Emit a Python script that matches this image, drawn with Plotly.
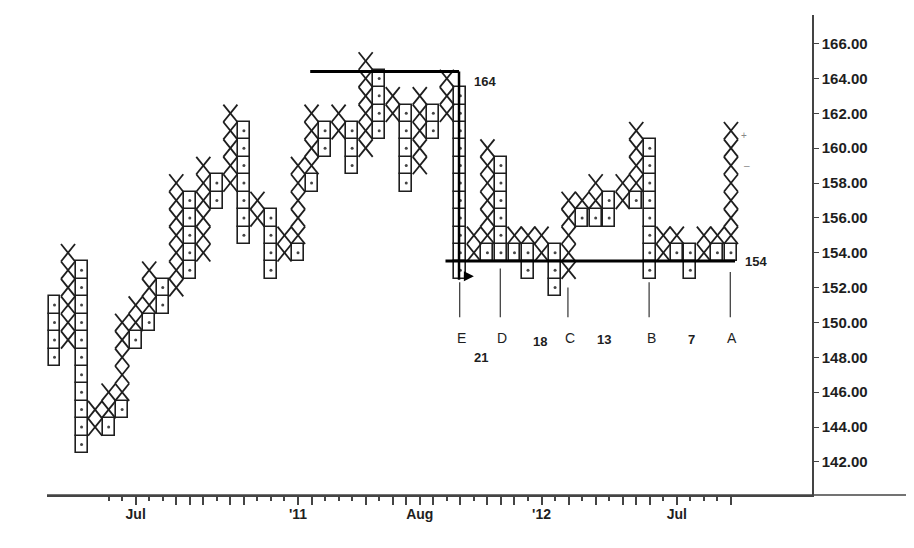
import plotly.graph_objects as go

# point & figure chart, box size 1.00, one column per index
o_col = [0, 2, 4, 5, 6, 7, 8, 10, 12, 14, 16, 18, 19, 20, 22, 24, 26, 28, 30,
         32, 33, 34, 35, 37, 39, 40, 41, 43, 44, 46, 47, 49, 50]
o_low = [148, 143, 144, 145, 149, 150, 151, 153, 157, 155, 153, 154, 158, 160, 159, 161, 158, 161, 153,
         154, 154, 154, 153, 152, 156, 156, 156, 157, 153, 154, 153, 154, 154]
o_high = [151, 153, 144, 145, 149, 150, 152, 157, 158, 161, 156, 154, 158, 161, 161, 164, 162, 162, 163,
          154, 159, 154, 154, 154, 156, 156, 157, 157, 160, 154, 154, 154, 154]

x_col = [1, 3, 4, 5, 6, 7, 9, 11, 13, 15, 17, 18, 19, 21, 23, 25, 27, 29, 31, 32,
         34, 35, 36, 38, 39, 40, 42, 43, 45, 46, 48, 49, 50]
x_low = [149, 144, 145, 146, 150, 151, 152, 154, 158, 156, 154, 155, 159, 161, 160, 162, 159, 162, 154, 155,
         155, 155, 154, 153, 157, 157, 157, 158, 154, 155, 154, 155, 155]
x_high = [154, 145, 146, 150, 151, 153, 158, 159, 162, 157, 155, 159, 162, 162, 165, 163, 163, 164, 155, 160,
          155, 155, 155, 157, 157, 158, 158, 161, 155, 155, 155, 155, 161]

# time axis
label_cols = [6, 18, 27, 36, 46]
label_text = ["Jul", "'11", "Aug", "'12", "Jul"]
long_ticks = [6, 9, 10, 11, 13, 14, 18, 19, 23, 25, 26, 27, 28, 30, 32, 33, 34, 36,
              38, 40, 42, 43, 44, 46, 50]
short_ticks = [c for c in range(4, 51) if c not in long_ticks]

price_ticks = list(range(142, 167, 2))

# count / target marks
mark_cols = [30, 33, 38, 44, 50]
mark_text = ["E", "D", "C", "B", "A"]
mark_top = [152.3, 153.1, 152.0, 152.3, 152.9]
count_cols = [31.5, 35.9, 40.6, 47.1]
count_text = ["21", "18", "13", "7"]
count_y = [148.0, 148.9, 149.0, 149.0]

ink = "#1e1e1e"

# O boxes
bx, bbase, dot_x, dot_y = [], [], [], []
for c, lo, hi in zip(o_col, o_low, o_high):
    for lv in range(lo, hi + 1):
        bx.append(c)
        bbase.append(lv - 0.5)
        dot_x.append(c)
        dot_y.append(lv)

# X marks
xx, xy = [], []
hw = 0.52
for c, lo, hi in zip(x_col, x_low, x_high):
    for lv in range(lo, hi + 1):
        xx += [c - hw, c + hw, None, c - hw, c + hw, None]
        xy += [lv - 0.5, lv + 0.5, None, lv + 0.5, lv - 0.5, None]

fig = go.Figure()
fig.add_trace(go.Bar(x=bx, y=[1] * len(bx), base=bbase, width=0.88,
                     marker=dict(color="white", line=dict(color=ink, width=1.6)),
                     hoverinfo="skip", showlegend=False))
fig.add_trace(go.Scatter(x=dot_x, y=dot_y, mode="markers",
                         marker=dict(size=3, color="#444"),
                         hoverinfo="skip", showlegend=False))
fig.add_trace(go.Scatter(x=xx, y=xy, mode="lines",
                         line=dict(color=ink, width=1.8),
                         hoverinfo="skip", showlegend=False))

# resistance / support lines
fig.add_shape(type="line", x0=18.9, x1=29.9, y0=164.4, y1=164.4,
              line=dict(color="black", width=3))
fig.add_shape(type="line", x0=29.9, x1=29.9, y0=164.4, y1=152.45,
              line=dict(color="black", width=2.5))
fig.add_shape(type="line", x0=28.9, x1=50.3, y0=153.52, y1=153.52,
              line=dict(color="black", width=3))

for c, t, top in zip(mark_cols, mark_text, mark_top):
    fig.add_shape(type="line", x0=c - 0.05, x1=c - 0.05, y0=top, y1=150.3,
                  line=dict(color="#333", width=1.2))
    fig.add_annotation(x=c + 0.1, y=149.1, text=t, showarrow=False,
                       font=dict(family="Liberation Sans, Arial", size=14, color=ink))

for c, t, yv in zip(count_cols, count_text, count_y):
    fig.add_annotation(x=c, y=yv, text="<b>" + t + "</b>", showarrow=False,
                       font=dict(family="Liberation Sans Narrow, Arial", size=13, color=ink))

fig.add_annotation(x=31.8, y=163.8, text="<b>164</b>", showarrow=False,
                   font=dict(family="Liberation Sans Narrow, Arial", size=13, color=ink))
fig.add_annotation(x=51.85, y=153.52, text="<b>154</b>", showarrow=False,
                   font=dict(family="Liberation Sans Narrow, Arial", size=13, color=ink))
fig.add_annotation(x=51.0, y=160.75, text="+", showarrow=False,
                   font=dict(family="Arial", size=10, color="#888"))
fig.add_annotation(x=51.2, y=159.0, text="\u2013", showarrow=False,
                   font=dict(family="Arial", size=10, color="#888"))
fig.add_annotation(x=31.0, y=152.65, ax=30.15, ay=152.65, axref="x", ayref="y",
                   text="", showarrow=True, arrowhead=2, arrowsize=1,
                   arrowwidth=2, arrowcolor="black")

# x axis line runs on past the price scale
fig.add_shape(type="line", xref="paper", yref="paper", x0=0, x1=1.13, y0=0, y1=0,
              line=dict(color="#444", width=1.5))

# page body adds 8px, so the figure is 8px smaller each way
fig.update_layout(
    width=906, height=540,
    margin=dict(l=39, r=102, t=7, b=53),
    paper_bgcolor="white", plot_bgcolor="white",
    barmode="overlay", bargap=0,
    font=dict(family="Liberation Sans, Arial", color=ink),
)
fig.update_xaxes(
    range=[-0.554, 55.99], showgrid=False, zeroline=False,
    showline=True, linecolor="#444", linewidth=1.5,
    tickmode="array", tickvals=long_ticks,
    ticktext=[label_text[label_cols.index(c)] if c in label_cols else "" for c in long_ticks],
    ticks="outside", ticklen=8, tickwidth=1.5, tickcolor="#444",
    minor=dict(tickvals=short_ticks, ticks="outside", ticklen=4, tickwidth=1.5, tickcolor="#444"),
    ticklabelstandoff=-3,
    tickfont=dict(family="Liberation Sans, Arial", size=14, color=ink, weight="bold"),
)
fig.update_yaxes(
    range=[140.1, 167.64], side="right", showgrid=False, zeroline=False,
    showline=True, linecolor="#444", linewidth=1.5,
    tickmode="array", tickvals=price_ticks, ticktext=[f"{v:.2f}" for v in price_ticks],
    ticks="outside", ticklen=5, tickwidth=1.2, tickcolor="#444",
    tickfont=dict(family="Liberation Sans, Arial", size=15, color=ink, weight="bold"),
)

fig.write_html("out.html")
